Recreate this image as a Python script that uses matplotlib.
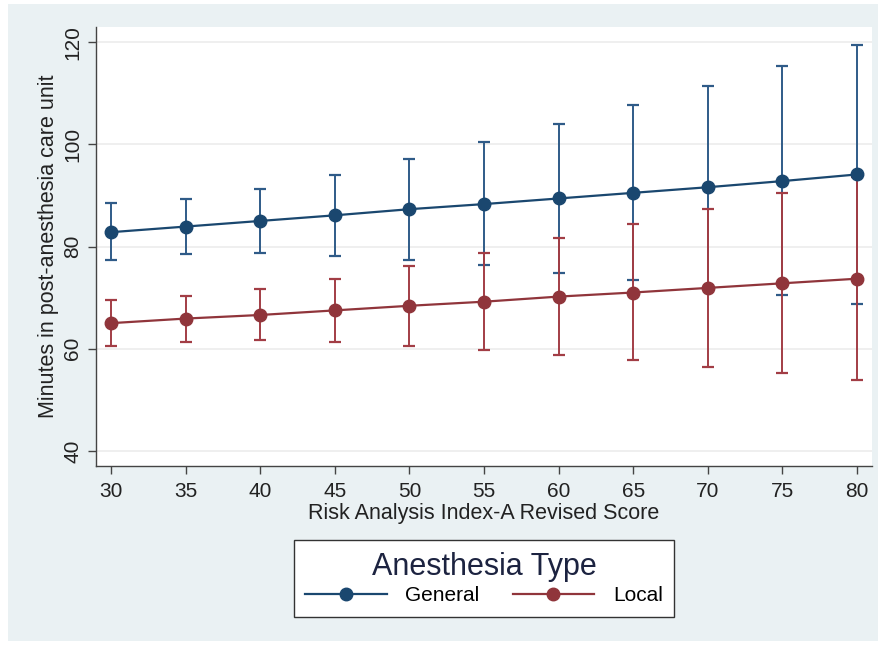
from matplotlib import pyplot as plt
from matplotlib.patches import Rectangle
import numpy as np

plt.rcParams['font.family'] = ['Liberation Sans', 'DejaVu Sans']

# RAI-A score on the x axis
scores = [30, 35, 40, 45, 50, 55, 60, 65, 70, 75, 80]

# General anesthesia: predicted minutes and 95% CI
general_mean = [82.8, 83.9, 85.0, 86.1, 87.3, 88.3, 89.4, 90.5, 91.6, 92.8, 94.1]
general_lo = [77.4, 78.6, 78.8, 78.2, 77.4, 76.3, 74.9, 73.5, 72.0, 70.5, 68.8]
general_hi = [88.5, 89.3, 91.3, 94.0, 97.1, 100.4, 103.9, 107.6, 111.4, 115.4, 119.4]

# Local anesthesia: predicted minutes and 95% CI
local_mean = [65.0, 65.9, 66.6, 67.5, 68.4, 69.2, 70.2, 71.0, 71.9, 72.8, 73.7]
local_lo = [60.5, 61.4, 61.7, 61.3, 60.6, 59.7, 58.7, 57.7, 56.5, 55.3, 53.9]
local_hi = [69.6, 70.3, 71.7, 73.7, 76.2, 78.8, 81.6, 84.5, 87.4, 90.5, 93.6]

y_ticks = [40, 60, 80, 100, 120]

navy = '#1a476f'
maroon = '#90353b'
navy_ci = '#2f5b88'
maroon_ci = '#a23d45'

fig = plt.figure(figsize=(8.86, 6.5), dpi=100)
fig.patch.set_facecolor('white')

# Stata style light blue-grey panel behind everything
fig.patches.append(Rectangle((8 / 886, 1 - 641 / 650), 870 / 886, 637 / 650,
                             transform=fig.transFigure, facecolor='#eaf1f3',
                             edgecolor='none', zorder=-10))

ax = fig.add_axes([96 / 886, 1 - 465.5 / 650, 776 / 886, 438.5 / 650])
ax.set_facecolor('white')

x = np.array(scores)
series = [
    ('General', general_mean, general_lo, general_hi, navy, navy_ci),
    ('Local', local_mean, local_lo, local_hi, maroon, maroon_ci),
]
for name, mean, lo, hi, col, cicol in series:
    mean = np.array(mean)
    err = [mean - np.array(lo), np.array(hi) - mean]
    # error bars first, then the connected line with markers on top
    ax.errorbar(x, mean, yerr=err, fmt='none', ecolor=cicol, elinewidth=1.4,
                capsize=4, capthick=1.6, zorder=2)
    ax.plot(x, mean, color=col, linewidth=1.6, marker='o', markersize=9,
            markerfacecolor=col, markeredgecolor=col, label=name, zorder=3)

# axes
ax.set_xlim(29, 81)
ax.set_ylim(37.15, 122.95)
ax.set_xticks(scores)
ax.set_yticks(y_ticks)
ax.grid(axis='y', color='#ececec', linewidth=1.2, zorder=0)
ax.set_axisbelow(True)

for s in ['top', 'right']:
    ax.spines[s].set_visible(False)
for s in ['left', 'bottom']:
    ax.spines[s].set_color('#444444')
    ax.spines[s].set_linewidth(1.0)

ax.tick_params(axis='both', direction='out', length=6, width=1.0,
               color='#444444', labelsize=15, labelcolor='#222222')
ax.tick_params(axis='x', pad=6)
ax.tick_params(axis='y', pad=4)
for lab in ax.get_yticklabels():
    lab.set_rotation(90)
    lab.set_va('center')

ax.set_xlabel('Risk Analysis Index-A Revised Score', fontsize=15.5,
              color='#222222', labelpad=1)
ax.set_ylabel('Minutes in post-anesthesia care unit', fontsize=15.5,
              color='#222222', labelpad=3)

# legend box under the plot
leg = fig.legend(loc='center', bbox_to_anchor=(484 / 886, 1 - 578.5 / 650),
                 ncol=2, title='Anesthesia Type', fontsize=15,
                 title_fontsize=22, frameon=True, fancybox=False,
                 framealpha=1, facecolor='white',
                 handlelength=3.9, handletextpad=0.9, columnspacing=1.6,
                 borderpad=0.55, labelspacing=0.2, borderaxespad=0)
leg.get_frame().set_edgecolor('#333333')
leg.get_frame().set_linewidth(1.0)
leg.get_title().set_color('#1c2340')

plt.savefig('out.png', dpi=100, facecolor=fig.get_facecolor())
